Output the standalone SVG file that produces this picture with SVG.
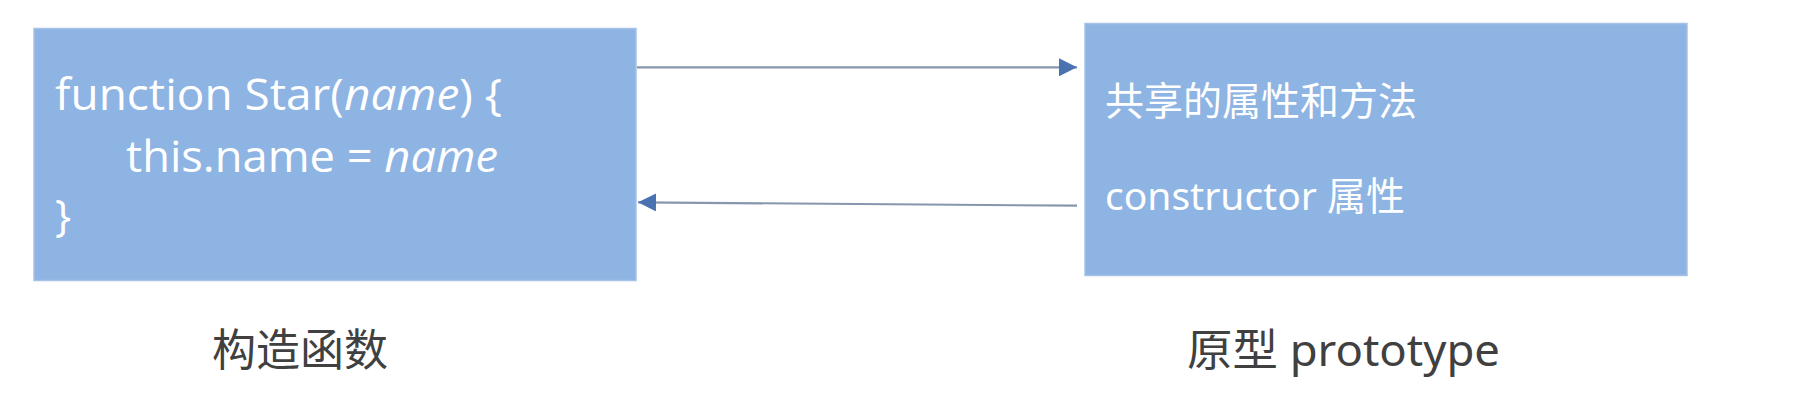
<svg xmlns="http://www.w3.org/2000/svg" width="1812" height="413" viewBox="0 0 1812 413">
<style>
.box{fill:#8EB4E3;stroke:#A6C2E6;stroke-width:1.5}
.code{font-family:"Open Sans","Noto Sans",sans-serif;font-size:43px;fill:#FFFFFF}
.it{font-style:italic}
.cn{font-family:"Noto Sans","Noto Sans CJK SC",sans-serif;font-size:39px;fill:#FFFFFF}
.lbl{font-family:"Noto Sans","Noto Sans CJK SC",sans-serif;font-size:44px;fill:#404040}
.conn{stroke:#8796AD;stroke-width:2.2;fill:none}
</style>
<defs>
<marker id="arr" viewBox="0 0 18 18" refX="18" refY="9" markerWidth="18" markerHeight="18" markerUnits="userSpaceOnUse" orient="auto">
<path d="M0,0 L18,9 L0,18 Z" fill="#4A72B0"/>
</marker>
</defs>
<rect width="1812" height="413" fill="#FFFFFF"/>
<g id="constructor">
<rect class="box" x="34" y="28.5" width="602" height="252"/>
<text class="code" x="55" y="110" textLength="447" lengthAdjust="spacingAndGlyphs">function Star(<tspan class="it">name</tspan>) {</text>
<text class="code" x="126" y="172" textLength="372" lengthAdjust="spacingAndGlyphs">this.name = <tspan class="it">name</tspan></text>
<text class="code" x="55" y="231">}</text>
</g>
<g id="prototype">
<rect class="box" x="1085" y="23.5" width="602" height="252"/>
<text class="cn" x="1105" y="115">共享的属性和方法</text>
<text class="cn" x="1105" y="210">constructor 属性</text>
</g>
<g id="labels">
<text class="lbl" x="212" y="366">构造函数</text>
<text class="lbl" x="1187" y="366" textLength="313" lengthAdjust="spacingAndGlyphs">原型 prototype</text>
</g>
<g id="connectors">
<line class="conn" x1="637" y1="67.3" x2="1077" y2="67.3" marker-end="url(#arr)"/>
<line class="conn" x1="1077" y1="205.7" x2="638" y2="202.3" marker-end="url(#arr)"/>
</g>
</svg>
